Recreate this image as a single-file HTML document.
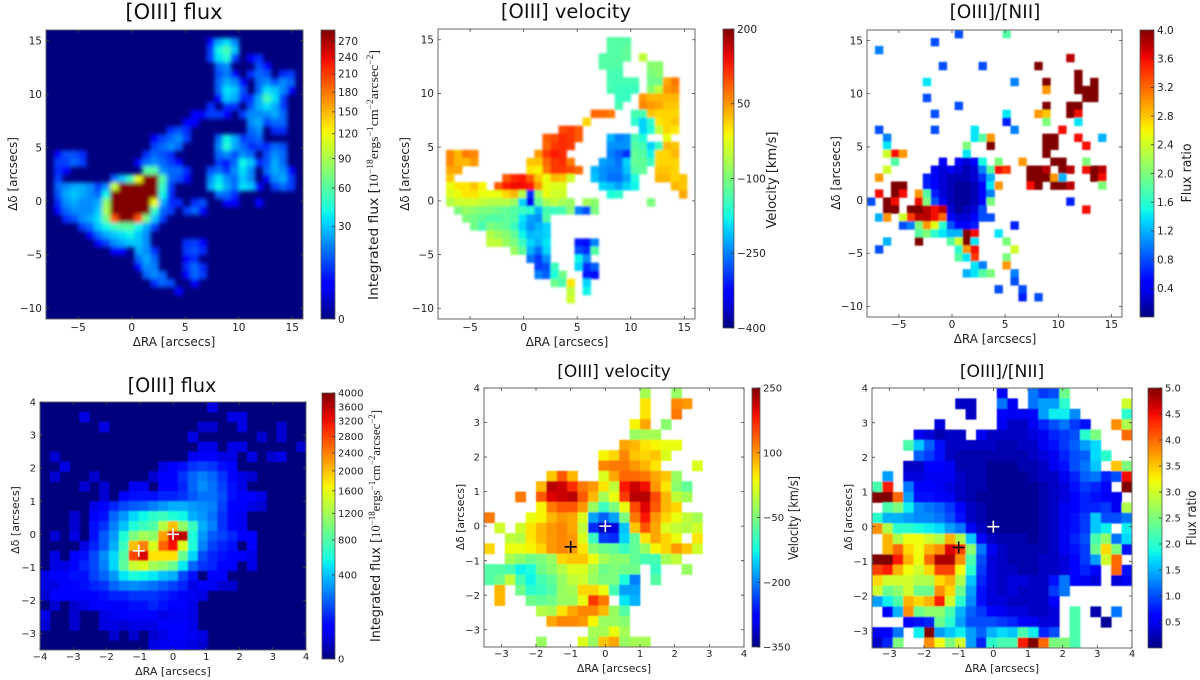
<!DOCTYPE html>
<html lang="en">
<head>
<meta charset="utf-8">
<title>[OIII] flux, velocity and line ratio maps</title>
<style>
html,body{margin:0;padding:0;background:#fff;width:1200px;height:680px;overflow:hidden}
svg{display:block;font-family:"DejaVu Sans","Liberation Sans",sans-serif}
</style>
</head>
<body>
<svg id="figure" xmlns="http://www.w3.org/2000/svg" width="1200" height="680" viewBox="0 0 1200 680"><defs id="defs"></defs><rect width="1200" height="680" fill="#fff"></rect></svg>
<script>
// ---------- tick labels ----------
const wideXTicks = [-5, 0, 5, 10, 15];
const wideYTicks = [-10, -5, 0, 5, 10, 15];
const coreFluxXTicks = [-4, -3, -2, -1, 0, 1, 2, 3, 4];
const coreXTicks = [-3, -2, -1, 0, 1, 2, 3, 4];
const coreYTicks = [-3, -2, -1, 0, 1, 2, 3, 4];
const wideFluxBarTicks = [0, 30, 60, 90, 120, 150, 180, 210, 240, 270];
const wideVelBarTicks = [-400, -250, -100, 50, 200];
const wideRatioBarTicks = [0.4, 0.8, 1.2, 1.6, 2.0, 2.4, 2.8, 3.2, 3.6, 4.0];
const coreFluxBarTicks = [0, 400, 800, 1200, 1600, 2000, 2400, 2800, 3200, 3600, 4000];
const coreVelBarTicks = [-350, -200, -50, 100, 250];
const coreRatioBarTicks = [0.5, 1.0, 1.5, 2.0, 2.5, 3.0, 3.5, 4.0, 4.5, 5.0];

// ---------- wide field flux (data units); rows run north to south, blank = no emission ----------
const wideFluxRows = [
[],
[,,,,, ,,,,, ,,,,, ,,,,, 5,25,35,20],
[,,,,, ,,,,, ,,,,, ,,,,, 10,40,55,30],
[,,,,, ,,,,, ,,,,, ,,,,, 10,35,45,10,,5,8],
[,,,,, ,,,,, ,,,,, ,,,,, ,15,20,,,,12,5],
[,,,,, ,,,,, ,,,,, ,,,,, ,12,18,5,,8,15,12,,8,10],
[,,,,, ,,,,, ,,,,, ,,,,, ,15,25,20,5,,15,20,12,20,15],
[,,,,, ,,,,, ,,,,, ,,,,, ,15,35,30,12,,15,35,30,20,5],
[,,,,, ,,,,, ,,,,, ,,,,, ,5,30,25,8,8,25,55,35,10],
[,,,,, ,,,,, ,,,,, ,,,,, 8,,8,8,,12,25,35,25,10],
[,,,,, ,,,,, ,,,,, ,,, 5,5,10,10,5,,10,20,20,20,25,15],
[,,,,, ,,,,, ,,,,, ,, 5,5,,,,,,,20,25,10,15,15],
[,,,,, ,,,,, ,,,,, 8,12,8,,,,,,,,15,20,,8,8],
[,,,,, ,,,,, ,,, 5,10,15,20,10,,,,15,40,25,10,12,15],
[,,,,, ,,,,, ,,, 10,15,20,15,,,,,20,45,25,15,8,10,8,15,12],
[, 5,12,12,8,,,,,,,,8,15,12,8,,,,,,15,20,12,20,15,,12,20,15],
[, 10,10,15,10,,,,,,,5,15,20,15,10,5,,,,,10,5,15,40,30,8,12,25,15],
[, 8,5,,,,,,,,,,60,60,20,15,15,8,,,12,15,8,20,35,20,,15,25,20,5],
[, 10,,,,,,,15,30,50,120,290,290,60,15,12,5,,,20,35,20,15,30,20,,5,20,25,10],
[, 15,20,25,25,20,10,20,100,290,290,290,290,290,50,10,,,,,25,40,25,15,35,30,5,,10,15,10],
[, 12,25,30,25,20,15,40,290,290,290,290,290,290,40,8,,,,,,15,15,8],
[, 8,20,25,20,20,25,80,290,290,290,290,290,120,25,8,8,,8,12,,,5,5,,,5],
[, 5,15,20,20,20,30,90,290,290,290,290,290,50,15,10,,10,15,5],
[,, 8,12,20,25,35,70,200,290,290,200,70,30,10],
[,,,, 10,15,30,40,50,60,60,40,25,10],
[,,,,, 5,15,25,30,35,40,30,20],
[,,,,, ,5,10,20,25,30,30,20,,,,,8,10,5],
[,,,,, ,,,5,5,,25,20,8,,,,10,12,8],
[,,,,, ,,,,, ,15,25,15,,,,5,8],
[,,,,, ,,,,, ,5,20,18,,,,8,15,8],
[,,,,, ,,,,, ,,15,20,15,,,5,15,10],
[,,,,, ,,,,, ,,,8,15,12,,,5],
[,,,,, ,,,,, ,,,,, ,5],
[],[],[]
];

// ---------- wide field velocity (tens of km/s); blank = masked ----------
const wideVelocityRows = [
[],
[,,,,, ,,,,, ,,,,, ,,,,, ,-13,-13,-13],
[,,,,, ,,,,, ,,,,, ,,,,, ,-13,-13,-12],
[,,,,, ,,,,, ,,,,, ,,,,, -13,-13,-13,-12,,-5],
[,,,,, ,,,,, ,,,,, ,,,,, -13,-13,-13,,,,-9,-9],
[,,,,, ,,,,, ,,,,, ,,,,, ,-14,-14,,,,-10,-9],
[,,,,, ,,,,, ,,,,, ,,,,, ,-14,-14,-14,-14,,-11,-11,4,7],
[,,,,, ,,,,, ,,,,, ,,,,, ,-14,-15,-15,-15,,-9,-5,5,6],
[,,,,, ,,,,, ,,,,, ,,,,, ,,-15,-15,,5,3,3,3,3],
[,,,,, ,,,,, ,,,,, ,,,,, ,,-14,,,6,5,4,2,2],
[,,,,, ,,,,, ,,,,, ,,,, 8,8,7,,,-14,-14,2,1,1,1],
[,,,,, ,,,,, ,,,,, ,,, 1,,,,,,-16,-20,-16,0,1,2],
[,,,,, ,,,,, ,,,,, 10,11,9,,,,,,,,-20,-17,-5,1,0],
[,,,,, ,,,,, ,,, 9,10,12,11,9,,,,-22,-25,-24,-14,-17,,,-2],
[,,,,, ,,,,, ,,, 8,11,12,11,,,,,-24,-24,-24,-13,-14,-20,-15,3,2],
[, 6,3,7,6,,,,,,,,5,11,13,12,,,,,,-25,-27,-30,-12,-13,-18,1,1,3],
[, 6,3,3,5,,,,,,,2,2,8,11,12,7,,,,-23,-24,-26,-20,-12,-12,-15,1,1,1],
[, 4,4,,,,,,,,,0,-1,7,11,11,10,8,,-22,-24,-25,-25,-21,-13,-12,,2,2,1],
[, 2,,,,,,,9,12,13,9,2,-2,3,2,-4,,,-21,-24,-26,-26,-23,-17,,,3,3,1,2],
[, -2,0,0,2,-1,,9,13,14,14,13,5,-2,-3,-3,,,,,-20,-21,-23,-20,-18,,,,,3,2],
[, -3,-2,0,0,-2,-2,-2,1,3,-6,-30,-8,-2,-4,-4,,,,,,-17,-16,,,,,,,,4],
[, -6,-4,-4,-4,-5,-6,-6,-6,-8,-20,-34,-12,-7,-5,-7,-8,,-7,-9,,,,,,,-10],
[,, -10,-8,-9,-10,-10,-11,-12,-13,-15,-16,-22,-14,-15,-14,-9,-25,-28,-10],
[,,, -10,-11,-12,-13,-13,-12,-13,-19,-23,-24,-13],
[,,,, -11,-14,-10,-11,-12,-15,-20,-24,-22,-20],
[,,,,, ,-6,-8,-9,-12,-18,-22,-21,-20],
[,,,,, ,-5,-5,-8,-10,-15,-20,-22,-19,,,,-31,-32,-25],
[,,,,, ,,,,-8,-12,-22,-26,-20,,,,-28,-30,-13],
[,,,,, ,,,,, ,-26,-29,-24,,,,-18,-24],
[,,,,, ,,,,, ,,-29,-28,-15,,,-20,-30,-27],
[,,,,, ,,,,, ,,-25,-27,-17,-11,,,-31,-32],
[,,,,, ,,,,, ,,,,-11,-14,0,,-20],
[,,,,, ,,,,, ,,,,, ,-5,,-18],
[,,,,, ,,,,, ,,,,, ,-4],
[],[]
];

// ---------- wide field [OIII]/[NII] ratio (tenths); blank = masked ----------
const wideRatioRows = [
[,,,,, ,,,,, ,8,,,,, ,18],
[,,,,, ,,,8],
[, 10],
[,,,,, ,,,,, ,,,,, ,,,,, ,,,,, 38],
[,,,,, ,,,, 8,,,,,8,,,,,,,40],
[,,,,, ,,,,, ,,,,, ,,,,, ,,,,, ,40],
[,,,,, ,, 14,,,,,,,,,,,10,,,,40,,,,40,,40],
[,,,,, ,,,,, ,,,,, ,,,,, ,,30,,,,40,40,40],
[,,,,, ,, 8,,,,,,,,,,,,,,,,,,,,40,40],
[,,,,, ,,,,, ,8,,,,,,,,,,,40,,,40,40],
[,,,,, ,,,8,,,,,,,,,14,,,,30,28,,,40,36],
[,,,,, ,,,,, ,,,,, ,,6,,,,,20,,,,14],
[, 8,,,,,,,8,,,,,14,,,,,10,,,,,,36],
[,, 10,,,,,,,,,,,14,18,30,,,,,,,40,40,,,36,,,12],
[,, 14,,,,,,,,,,20,,,40,,,,,,,40,40,,,,36],
[,, 24,36,30,,,,,,,,14,,,,,,,,,,40],
[,,, 18,,,,,,5,,5,3,5,15,,20,,,30,,,,40,40,,,20],
[,, 24,,,,,,4,3,4,3,2,3,10,18,36,34,,,40,40,38,,40,38,,36,40,38],
[, 30,,,,,,6,4,3,2,2,2,3,7,12,,,,,40,40,40,30,12,,,,40,36],
[,,, 40,40,,,6,5,3,2,1,1,2,5,14,30,,,,36,40,,40,40,38,,,,20],
[, 36,,40,36,,30,18,6,3,2,1,1,2,5,10],
[8,,40,36,,,36,20,8,4,2,1,1,2,5,20,,,,,,,,,,6],
[,, 40,40,,40,40,38,36,38,3,1,2,3,8,,,,,,,,,,,,,36],
[, 12,30,,24,34,38,38,36,32,5,3,3,5,8,8],
[,,,, 8,10,20,30,25,16,8,5,5,6,,,,,6],
[,,,,, ,18,20,16,14,12,12,40,36,,,14],
[,, 12,,,,40,,,,18,24,40,14,,,,20],
[, 8,,,,,,,,,,16,30,36,,,,,24],
[,,,,, ,,,,, ,18,14,34,,,,20],
[,,,,, ,,,,, ,,,14,10,,,30],
[,,,,, ,,,,, ,,12,14,18,20,,,10],
[,,,,, ,,,,, ,,,,, ,,,8],
[,,,,, ,,,,, ,,,,, ,8,,,8],
[,,,,, ,,,,, ,,,,, ,,,,6,,8],
[],[]
];

// ---------- central flux (tens of flux units) ----------
const coreFluxRows = [
[,,,,, ,,,,, ,,,,, ,,3],
[,,,, 3,,,,,,,,,,,,,,,3,3],
[,,,,, ,3,,,,,,,,,,2,2,,,3,,,,2],
[,,,,, ,,,,, ,,,,, 3,,,,,,,2,,2],
[,,,,, ,,,,, ,,,,, ,3,3,,3,3,,,,,,2],
[, 2,,,,,,,,,,,,,,4,6,5,3,3,,3,,2,3],
[,, 3,,,,,,,,,,3,5,8,12,14,12,8,5],
[, 2,,,,2,,,,,,2,5,6,12,20,25,20,12,6,3,2],
[,,,, 2,,2,,,4,4,,5,5,10,20,28,22,14,8,3],
[,,,,, ,2,,6,8,8,8,10,10,12,18,22,22,16,8,6,5,3],
[,,,,, 3,5,10,15,18,20,25,30,35,35,30,28,25,14,6,5,3,2],
[,,, 2,,5,8,20,30,45,55,65,70,60,55,35,30,22,12,6,4],
[,,, 2,,8,12,25,40,60,70,80,130,200,110,70,35,25,12,6,4],
[, 2,,3,,8,18,30,60,100,120,110,220,340,360,60,30,18,14,10,6,5],
[,,,, 3,10,18,35,70,200,240,150,260,320,150,60,25,14,10,8,,5],
[, 3,,5,8,15,28,45,80,280,340,180,180,180,90,45,16,10,8,6,5,3],
[, 3,3,6,10,15,25,45,85,140,150,120,110,90,50,20,12,10,6,5,,3],
[3,5,5,8,8,14,20,30,50,60,55,50,40,35,15,8,,5,5],
[3,3,5,6,8,10,12,20,25,28,25,22,18,14,10,3,5,4,2,2],
[2,5,5,6,5,6,8,10,10,12,12,12,10,8,6,4,3],
[, 2,,2,3,5,6,6,6,8,8,10,8,6,5,3],
[3,,,2,,,3,4,5,5,5,5,3,4,4,3],
[2,,,2,,,3,3,2,3,3,3,5,5,6,3],
[,,,,, ,,2,,2,,2,3,5,5,4,3],
[,,,,, ,,,,, ,3,4,4,4,3,2]
];

// ---------- central velocity (tens of km/s) ----------
const coreVelocityRows = [
[,,,,, ,,,,, ,,,,, -2,,,-3],
[,,,,, ,,,,, ,,,,, 5,,,11,10],
[,,,,, ,,,,, ,,,,, 5,,,12],
[,,,,, ,,,,, ,,,, 4,9,,-4],
[,,,,, ,,,,, ,,,, -3,-2,-2],
[,,,,, ,,,,, ,,, 9,8,5,4,3,3],
[,,,,, ,,,,, ,4,6,11,7,6,7,2],
[,,,,, ,,,,, ,11,12,12,10,8,5,,,,2],
[,,,,, ,7,14,8,,,2,9,13,13,12,9,7,-3],
[,,,,, 8,22,21,17,12,10,5,0,18,21,19,10,5,-4,-7],
[,,, 12,,14,20,21,22,14,8,-2,3,16,22,22,15,8,0,-2],
[,,,,, 4,12,14,14,10,-3,-10,-5,3,15,20,14,8,6],
[12,,,,3,4,8,10,9,2,-18,-22,-18,-5,12,18,10,6,3,0,-2],
[, 1,,1,5,8,10,11,9,0,-25,-32,-30,-16,7,14,9,2,0,-1,1],
[,, 0,-1,5,8,10,11,10,2,-10,-24,-25,-15,-7,5,9,6,3,,5],
[6,,3,3,4,6,10,11,10,5,-4,-6,-7,-10,-7,-3,4,6,10,7,1],
[,, -2,-4,-6,-5,-3,6,7,7,3,-2,-4,-4,-7,-9,-9,-2,0],
[-8,-8,-9,-13,-12,-6,-4,-1,2,2,-2,-6,-5,-6,-6,,-10,,,-3],
[-8,-6,0,-9,-13,-9,-7,-3,0,1,-3,-5,-5,-12,-20,,-8],
[, 8,,-6,-11,-10,-8,-3,-2,6,6,3,-9,-18,-18],
[, 8,,,-6,-7,-6,-3,-3,3,16,12,,-14,-17],
[,,,,, -1,-2,5,9,11,11,8,-3,-8],
[,,,,, ,9,11,11,10,4,-3,-3,-4],
[,,,,, ,,,,, -2,-2,3,-2],
[,,,,, -3,,,,2,-3,7,9,-3,-2,-2]
];

// ---------- central [OIII]/[NII] ratio (tenths) ----------
const coreRatioRows = [
[,,,,, ,,,,, ,,6,,,12,9,10,24],
[,,,,, ,,,3,3,,,12,5,,12,14,14,20,,,,,,30],
[,,,,, ,,,,3,,,6,5,5,6,14,18,18,13,,,,,20],
[,,,,, ,4,,,,,,5,3,3,5,8,10,12,9,7,,,38,28],
[,,,, 5,4,2,3,3,,5,3,3,3,3,4,5,8,9,10,20,25,,,40],
[,,, 22,16,11,7,3,3,3,3,3,2,2,3,3,5,7,9,11,14,17],
[,,,, 11,9,7,3,2,2,2,2,2,2,2,3,4,5,8,10,11,17,20],
[,,, 3,3,6,6,5,2,2,2,1,1,1,2,2,3,5,7,10,12,16,,35,25],
[, 14,,4,4,5,5,5,3,2,2,1,1,1,1,2,3,3,5,8,11,12,8,10,45],
[22,44,,12,6,6,5,4,3,2,2,1,1,1,1,1,2,3,4,7,9,8,6,,50],
[50,50,40,14,7,7,6,5,3,2,1,1,1,1,1,1,2,3,4,6,8,7,6,5],
[, 22,25,18,13,12,11,9,6,3,2,1,1,1,1,1,2,3,5,6,8,8,9,5,28],
[20,15,15,14,13,13,12,10,7,3,2,1,1,1,1,1,2,3,5,7,9,16,10,10,12],
[38,28,20,20,19,18,17,14,12,5,3,1,1,1,1,1,2,3,5,7,9,16,18,,18],
[, 36,28,32,32,30,28,36,28,16,6,3,2,2,2,1,2,3,5,8,10,22,26,12,17],
[, 36,40,34,32,36,38,46,42,26,12,5,3,2,2,2,2,3,5,7,9,24,34,25,7],
[50,50,44,36,32,40,48,48,38,22,10,4,3,2,2,2,3,3,4,6,9,14,30,40],
[42,44,36,32,30,34,42,42,32,20,9,4,3,3,2,2,3,3,4,6,8,6,,40,7],
[34,30,30,30,28,28,34,36,28,16,8,4,3,4,4,3,3,7,12,6,5,4,,4,5],
[30,24,26,30,24,24,38,34,24,14,7,4,3,4,3,3,3,9,12],
[14,18,22,36,34,36,44,30,20,13,7,4,4,3,3,3,3,6],
[, 6,15,38,24,26,26,22,15,11,9,6,5,4,4,3,3,4,,22,,2,,12],
[,,, 6,7,8,24,20,14,10,10,10,9,8,6,5,4,4,,22,,,1],
[5,6,12,,18,50,14,16,18,14,11,15,17,16,22,18,8,10,,22],
[3,8,25,,,38,32,25,30,14,8,20,22,22,44,50,40,25,25,22]
];

// ---------- matplotlib jet colour map ----------
const NS = 'http://www.w3.org/2000/svg';
function ramp(t, pts){
  for (let i = 1; i < pts.length; i++){
    if (t <= pts[i][0]){
      const a = pts[i-1], b = pts[i];
      return a[1] + (b[1]-a[1]) * (t-a[0]) / (b[0]-a[0]);
    }
  }
  return pts[pts.length-1][1];
}
function jet(t){
  t = Math.max(0, Math.min(1, t));
  const r = ramp(t, [[0,0],[0.35,0],[0.66,1],[0.89,1],[1,0.5]]);
  const g = ramp(t, [[0,0],[0.125,0],[0.375,1],[0.64,1],[0.91,0],[1,0]]);
  const b = ramp(t, [[0,0.5],[0.11,1],[0.34,1],[0.65,0],[1,0]]);
  return 'rgb(' + Math.round(r*255) + ',' + Math.round(g*255) + ',' + Math.round(b*255) + ')';
}

const fig = document.getElementById('figure');
const defs = document.getElementById('defs');
function el(tag, attrs, parent){
  const e = document.createElementNS(NS, tag);
  for (const k in attrs) e.setAttribute(k, attrs[k]);
  (parent || fig).appendChild(e);
  return e;
}
function label(parent, name, txt, x, y, size, anchor, rot, fill){
  const attrs = {x:x, y:y, 'font-size':size, 'text-anchor':anchor, fill:fill || '#222'};
  if (rot) attrs.transform = 'rotate(' + rot + ' ' + x + ' ' + y + ')';
  const t = el('text', attrs, parent);
  
  
  t.textContent = txt;
  return t;
}
function fmt(v, digits){
  const s = digits ? v.toFixed(digits) : String(v);
  return s.replace('-', '\u2212');
}

function drawPanel(p){
  const g = el('g', {});
  
  
  const sx = function(v){ return p.box[0] + (v - p.xRange[0]) / (p.xRange[1] - p.xRange[0]) * (p.box[2] - p.box[0]); };
  const sy = function(v){ return p.box[3] - (v - p.yRange[0]) / (p.yRange[1] - p.yRange[0]) * (p.box[3] - p.box[1]); };
  const norm = function(v){ return p.norm(v); };

  const w = p.box[2] - p.box[0], h = p.box[3] - p.box[1];
  const clip = el('clipPath', {id: p.name + '-clip'}, defs);
  el('rect', {x:p.box[0], y:p.box[1], width:w, height:h}, clip);
  const blur = el('filter', {id: p.name + '-blur', x:'-5%', y:'-5%', width:'110%', height:'110%'}, defs);
  el('feGaussianBlur', {stdDeviation:p.blur}, blur);

  const bg = el('rect', {x:p.box[0], y:p.box[1], width:w, height:h, fill:p.background}, g);
  
  

  const clipG = el('g', {'clip-path':'url(#' + p.name + '-clip)'}, g);
  const cells = el('g', {filter:'url(#' + p.name + '-blur)'}, clipG);
  
  
  p.rows.forEach(function(row, j){
    for (let i = 0; i < row.length; i++){
      if (row[i] === undefined) continue;
      const x0 = sx(p.xRange[0] + i * p.cellX), x1 = sx(p.xRange[0] + (i + 1) * p.cellX);
      const y0 = sy(p.yRange[1] - j * p.cellY), y1 = sy(p.yRange[1] - (j + 1) * p.cellY);
      const c = el('rect', {x:x0.toFixed(2), y:y0.toFixed(2), width:(x1-x0+0.4).toFixed(2), height:(y1-y0+0.4).toFixed(2), fill:jet(norm(row[i] * p.unit))}, cells);
      
      
    }
  });

  (p.markers || []).forEach(function(m){
    const mx = sx(m[0]), my = sy(m[1]), r = 6;
    const mark = el('path', {d:'M' + (mx-r) + ' ' + my + 'H' + (mx+r) + 'M' + mx + ' ' + (my-r) + 'V' + (my+r), stroke:m[2], 'stroke-width':1.6, fill:'none'}, g);
    
    
  });

  const frame = el('rect', {x:p.box[0], y:p.box[1], width:w, height:h, fill:'none', stroke:'#666', 'stroke-width':1}, g);
  
  

  p.xTicks.forEach(function(v){
    const x = sx(v);
    const t = el('path', {d:'M' + x + ' ' + p.box[3] + 'v-3M' + x + ' ' + p.box[1] + 'v3', stroke:'#444', 'stroke-width':0.8}, g);
    
    
    label(g, 'x-tick-label', fmt(v), x, p.xTickY, p.tickSize, 'middle');
  });
  p.yTicks.forEach(function(v){
    const y = sy(v);
    const t = el('path', {d:'M' + p.box[0] + ' ' + y + 'h3M' + p.box[2] + ' ' + y + 'h-3', stroke:'#444', 'stroke-width':0.8}, g);
    
    
    label(g, 'y-tick-label', fmt(v), p.box[0] - 4, y + p.tickSize * 0.36, p.tickSize, 'end');
  });

  label(g, 'panel-title', p.title, p.titlePos[0], p.titlePos[1], p.titleSize, 'middle', 0, '#111');
  label(g, 'x-axis-title', '\u0394RA [arcsecs]', p.xLabelPos[0], p.xLabelPos[1], p.labelSize, 'middle');
  label(g, 'y-axis-title', '\u0394\u03b4 [arcsecs]', p.yLabelPos[0], p.yLabelPos[1], p.labelSize, 'middle', -90);

  // colour bar
  const grad = el('linearGradient', {id:p.name + '-grad', x1:0, y1:1, x2:0, y2:0}, defs);
  for (let i = 0; i <= 40; i++) el('stop', {offset:(i/40), 'stop-color':jet(i/40)}, grad);
  const b = p.bar;
  const bar = el('rect', {x:b[0], y:b[1], width:b[2]-b[0], height:b[3]-b[1], fill:'url(#' + p.name + '-grad)', stroke:'#555', 'stroke-width':0.8}, g);
  
  
  p.barTicks.forEach(function(v){
    const y = b[3] - norm(v) * (b[3] - b[1]);
    const t = el('path', {d:'M' + b[2] + ' ' + y + 'h-3', stroke:'#333', 'stroke-width':0.8}, g);
    
    
    label(g, 'colorbar-tick-label', fmt(v, p.barDigits), b[2] + 3, y + p.tickSize * 0.36, p.tickSize, 'start');
  });

  const lp = p.barLabelPos;
  const lt = el('text', {x:lp[0], y:lp[1], 'font-size':13, 'text-anchor':'middle', fill:'#222', transform:'rotate(-90 ' + lp[0] + ' ' + lp[1] + ')'}, g);
  
  
  lt.setAttribute('textLength', p.barLength);
  lt.setAttribute('lengthAdjust', 'spacingAndGlyphs');
  p.barLabel.forEach(function(part){
    const ts = el('tspan', {}, lt);
    ts.textContent = part[0];
    if (part[1] === 'serif'){
      ts.setAttribute('font-family', '"Liberation Serif", serif');
    }
    if (part[1] === 'sup'){
      ts.setAttribute('font-family', '"Liberation Serif", serif');
      ts.setAttribute('font-size', 9);
      ts.setAttribute('dy', -5);
    }
    if (part[1] === 'down'){
      ts.setAttribute('font-family', '"Liberation Serif", serif');
      ts.setAttribute('dy', 5);
    }
  });
}

const fluxLabel = [['Integrated flux ['], ['10','serif'], ['\u221218','sup'], ['ergs','down'], ['\u22121','sup'], ['cm','down'], ['\u22122','sup'], ['arcsec','down'], ['\u22122','sup'], [']','down']];
const sqrtNorm = function(vmax){ return function(v){ return Math.sqrt(Math.max(v, 0) / vmax); }; };
const linNorm = function(lo, hi){ return function(v){ return (v - lo) / (hi - lo); }; };

drawPanel({name:'wide-flux-panel', rows:wideFluxRows, unit:1, norm:sqrtNorm(292), background:'#00007f', blur:2,
  box:[46,30,303,319], xRange:[-8,16], yRange:[-11,16], cellX:0.75, cellY:0.75,
  xTicks:wideXTicks, yTicks:wideYTicks, xTickY:331, tickSize:10.5,
  title:'[OIII] flux', titlePos:[174,19], titleSize:21, labelSize:12,
  xLabelPos:[174,346], yLabelPos:[17,174],
  bar:[321,30,335,319], barTicks:wideFluxBarTicks, barLabel:fluxLabel, barLabelPos:[378,175], barLength:250});

drawPanel({name:'wide-velocity-panel', rows:wideVelocityRows, unit:10, norm:linNorm(-400,200), background:'#fff', blur:1,
  box:[438,29,695,319], xRange:[-8,16], yRange:[-11,16], cellX:0.75, cellY:0.75,
  xTicks:wideXTicks, yTicks:wideYTicks, xTickY:331, tickSize:10.5,
  title:'[OIII] velocity', titlePos:[566,18], titleSize:19.5, labelSize:12,
  xLabelPos:[567,346], yLabelPos:[409,174],
  bar:[723,29,734,328], barTicks:wideVelBarTicks, barLabel:[['Velocity [km/s]']], barLabelPos:[776,180], barLength:97});

drawPanel({name:'wide-ratio-panel', rows:wideRatioRows, unit:0.1, norm:linNorm(0,4), background:'#fff', blur:0.9,
  box:[867,30,1122,317], xRange:[-8,16], yRange:[-11,16], cellX:0.75, cellY:0.75,
  xTicks:wideXTicks, yTicks:wideYTicks, xTickY:328, tickSize:10.5,
  title:'[OIII]/[NII]', titlePos:[995,18], titleSize:18.5, labelSize:12,
  xLabelPos:[995,343], yLabelPos:[840,173],
  bar:[1140,30,1154,317], barTicks:wideRatioBarTicks, barDigits:1, barLabel:[['Flux ratio']], barLabelPos:[1191,173], barLength:59});

drawPanel({name:'core-flux-panel', rows:coreFluxRows, unit:10, norm:sqrtNorm(4000), background:'#00007f', blur:0.8,
  box:[40,402,306,650], xRange:[-4,4], yRange:[-3.5,4], cellX:8/27, cellY:0.3,
  xTicks:coreFluxXTicks, yTicks:coreYTicks, xTickY:660, tickSize:10,
  title:'[OIII] flux', titlePos:[172,392], titleSize:19.2, labelSize:11,
  markers:[[0,0,'#fff'],[-1.03,-0.5,'#fff']],
  xLabelPos:[173,675], yLabelPos:[19,520],
  bar:[322,393,335,659], barTicks:coreFluxBarTicks, barLabel:fluxLabel, barLabelPos:[380,526], barLength:232});

drawPanel({name:'core-velocity-panel', rows:coreVelocityRows, unit:10, norm:linNorm(-350,250), background:'#fff', blur:0.5,
  box:[484,388,744,647], xRange:[-3.5,4], yRange:[-3.5,4], cellX:0.3, cellY:0.3,
  xTicks:coreXTicks, yTicks:coreYTicks, xTickY:657, tickSize:10,
  title:'[OIII] velocity', titlePos:[614,377], titleSize:17, labelSize:10.8,
  markers:[[0,0,'#fff'],[-1,-0.6,'#000']],
  xLabelPos:[614,672], yLabelPos:[464,517],
  bar:[752,388,760,647], barTicks:coreVelBarTicks, barLabel:[['Velocity [km/s]']], barLabelPos:[798,518], barLength:84});

drawPanel({name:'core-ratio-panel', rows:coreRatioRows, unit:0.1, norm:linNorm(0,5), background:'#fff', blur:0.5,
  box:[872,388,1132,648], xRange:[-3.5,4], yRange:[-3.5,4], cellX:0.3, cellY:0.3,
  xTicks:coreXTicks, yTicks:coreYTicks, xTickY:657, tickSize:10,
  title:'[OIII]/[NII]', titlePos:[1002,377], titleSize:17.2, labelSize:10.8,
  markers:[[0,0,'#fff'],[-1,-0.6,'#000']],
  xLabelPos:[1002,672], yLabelPos:[852,517],
  bar:[1148,388,1162,648], barTicks:coreRatioBarTicks, barDigits:1, barLabel:[['Flux ratio']], barLabelPos:[1196,518], barLength:55});
</script>
</body>
</html>
